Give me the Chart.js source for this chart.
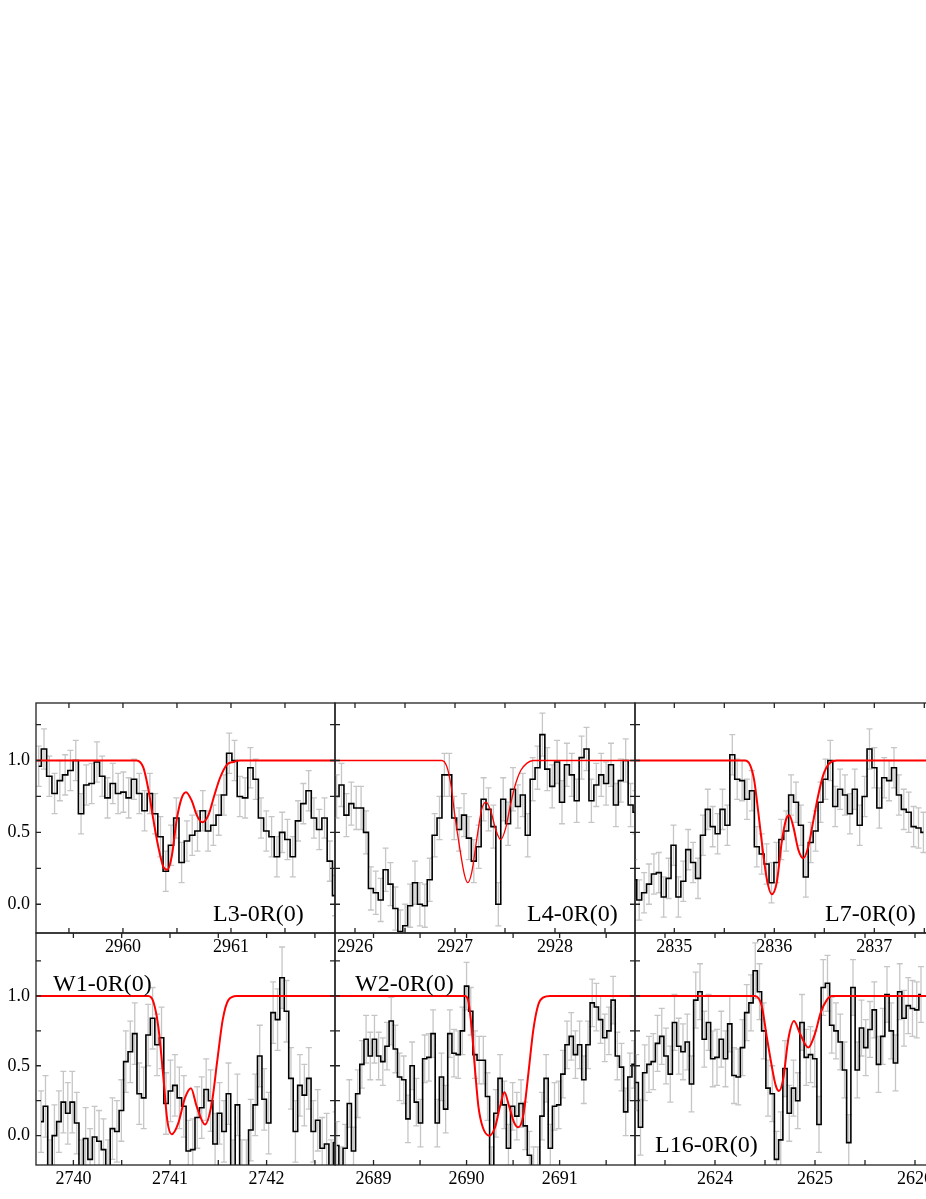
<!DOCTYPE html>
<html>
<head>
<meta charset="utf-8">
<title>H2 absorption lines</title>
<script src="https://cdn.jsdelivr.net/npm/chart.js@4.4.1/dist/chart.umd.min.js"></script>
<style>
  html, body { margin: 0; padding: 0; background: #fff; }
  body { width: 926px; height: 1199px; overflow: hidden; position: relative; }
  canvas { position: absolute; }
</style>
</head>
<body>
<script>
// normalised flux per bin (values below the frame read as -0.25)
const l3Flux = [0.96, 1.08, 0.89, 0.77, 0.86, 0.90, 0.93, 1.00, 0.63, 0.83, 0.84, 0.99, 0.89, 0.74, 0.84, 0.77, 0.78, 0.74, 0.87, 0.77,
  0.65, 0.77, 0.63, 0.47, 0.23, 0.41, 0.60, 0.29, 0.44, 0.48, 0.51, 0.65, 0.51, 0.55, 0.62, 0.76, 1.05, 1.00, 0.75, 0.74,
  0.95, 0.87, 0.60, 0.51, 0.47, 0.33, 0.50, 0.45, 0.33, 0.58, 0.70, 0.79, 0.60, 0.52, 0.60, 0.30, 0.06];
const l4Flux = [0.75, 0.83, 0.62, 0.70, 0.67, 0.67, 0.50, 0.11, 0.08, 0.03, 0.24, 0.14, -0.03, -0.19, -0.15, -0.01, 0.15, 0.00, -0.01, 0.17,
  0.48, 0.60, 0.90, 0.90, 0.60, 0.52, 0.62, 0.46, 0.30, 0.40, 0.73, 0.66, 0.54, 0.00, 0.73, 0.56, 0.80, 0.68, 0.76, 0.48,
  0.87, 0.95, 1.18, 0.94, 0.82, 0.99, 0.71, 0.97, 0.90, 0.72, 1.02, 1.08, 0.72, 0.83, 0.90, 0.84, 0.97, 0.69, 0.86, 1.00,
  0.69, 0.64];
const l7Flux = [0.17, 0.03, 0.08, 0.14, 0.21, 0.22, 0.05, 0.18, 0.41, 0.05, 0.16, 0.38, 0.29, 0.18, 0.48, 0.66, 0.54, 0.49, 0.66, 0.55,
  1.04, 0.87, 0.86, 0.73, 0.79, 0.40, 0.35, 0.28, 0.15, 0.29, 0.45, 0.51, 0.76, 0.71, 0.55, 0.19, 0.43, 0.51, 0.71, 0.87,
  1.00, 0.68, 0.80, 0.76, 0.63, 0.80, 0.55, 0.75, 1.08, 0.95, 0.67, 0.88, 0.86, 0.95, 0.76, 0.66, 0.64, 0.54, 0.53, 0.50];
const w1Flux = [0.10, 0.21, -0.25, 0.00, 0.10, 0.24, 0.16, 0.24, 0.09, -0.25, -0.02, -0.17, -0.01, -0.04, -0.10, -0.25, 0.05, 0.03, 0.18, 0.53,
  0.60, 0.73, 0.30, 0.27, 0.72, 0.84, 0.65, 0.70, 0.23, 0.32, 0.36, 0.27, 0.21, -0.11, -0.10, 0.13, 0.20, 0.33, 0.25, -0.06,
  0.16, 0.03, 0.30, -0.25, 0.22, -0.25, -0.25, 0.04, 0.22, 0.57, 0.26, 0.09, 0.88, 0.83, 1.13, 0.89, 0.41, 0.03, 0.36, 0.29,
  0.41, 0.03, 0.11, -0.09, -0.06, -0.25, -0.05];
const w2Flux = [-0.07, -0.25, -0.09, 0.23, -0.11, 0.30, 0.51, 0.69, 0.57, 0.69, 0.57, 0.53, 0.64, 0.82, 0.62, 0.42, 0.40, 0.12, 0.50, 0.24,
  0.09, 0.55, 0.56, 0.73, 0.09, 0.42, 0.19, 0.73, 0.59, 0.58, 0.75, 1.07, 0.89, 0.58, 0.54, 0.54, 0.28, -0.25, 0.16, 0.41,
  0.22, -0.09, 0.21, 0.14, 0.23, 0.07, -0.14, -0.25, -0.25, 0.14, 0.41, -0.09, 0.21, 0.22, 0.44, 0.65, 0.71, 0.58, 0.65, 0.40,
  0.65, 0.95, 0.92, 0.83, 0.70, 0.75, 0.97, 0.57, 0.49, 0.17, 0.42, 0.51, 0.67];
const l16Flux = [0.53, 0.38, 0.06, 0.45, 0.51, 0.53, 0.66, 0.71, 0.57, 0.44, 0.81, 0.64, 0.60, 0.67, 0.37, 0.97, 1.03, 0.69, 0.81, 0.55,
  0.56, 0.69, 0.55, 0.80, 0.43, 0.42, 0.63, 0.88, 0.95, 1.18, 1.03, 0.75, 0.34, 0.30, -0.17, -0.03, 0.48, 0.16, 0.34, 0.25,
  0.81, 0.56, 0.58, 0.55, 0.08, 1.06, 1.09, 0.79, 0.75, 0.67, 0.47, -0.05, 1.06, 0.47, 0.77, 0.63, 0.76, 0.90, 0.51, 0.71,
  1.01, 0.75, 0.52, 1.03, 0.84, 0.93, 0.91, 0.90, 1.01];

// wavelength of first bin centre and bin width (Angstrom)
const binStarts = [2959.22, 2925.816, 2834.60, 2739.665, 2688.605, 2623.17];
const binWidths = [0.049, 0.049, 0.049, 0.0462, 0.045, 0.0425];
// typical 1-sigma error per panel
const errSizes = [0.14, 0.15, 0.14, 0.22, 0.17, 0.20];

// fitted model (red)
const l3ModelX = [2959.19, 2960.127, 2960.189, 2960.235, 2960.281, 2960.327, 2960.374, 2960.411, 2960.451, 2960.498, 2960.544,
  2960.584, 2960.637, 2960.683, 2960.735, 2960.791, 2960.843, 2960.899, 2960.961, 2961.022, 2961.084, 2961.97];
const l3ModelY = [1, 1, 0.95, 0.80, 0.59, 0.40, 0.26, 0.24, 0.33, 0.59, 0.74, 0.78, 0.72, 0.62, 0.57, 0.62, 0.75, 0.88, 0.97, 0.99, 1, 1];
const l4ModelX = [2925.8, 2926.867, 2926.917, 2926.957, 2927.0, 2927.05, 2927.093, 2927.127, 2927.167, 2927.217, 2927.267,
  2927.31, 2927.357, 2927.407, 2927.457, 2927.507, 2927.557, 2927.607, 2927.657, 2927.717, 2927.783, 2927.85, 2928.8];
const l4ModelY = [1, 1, 0.96, 0.84, 0.61, 0.38, 0.21, 0.15, 0.22, 0.45, 0.66, 0.71, 0.65, 0.52, 0.45, 0.53, 0.70, 0.84, 0.93, 0.98, 1, 1, 1];
const l7ModelX = [2834.607, 2835.707, 2835.757, 2835.797, 2835.84, 2835.884, 2835.924, 2835.974, 2836.024, 2836.074, 2836.117,
  2836.15, 2836.19, 2836.24, 2836.29, 2836.34, 2836.39, 2836.44, 2836.49, 2836.55, 2836.624, 2836.69, 2837.61];
const l7ModelY = [1, 1, 0.97, 0.87, 0.64, 0.38, 0.18, 0.07, 0.15, 0.43, 0.59, 0.62, 0.54, 0.38, 0.32, 0.40, 0.58, 0.76, 0.90, 0.98, 1, 1, 1];
const w1ModelX = [2739.613, 2740.776, 2740.827, 2740.879, 2740.931, 2740.972, 2741.018, 2741.086, 2741.155, 2741.217, 2741.276,
  2741.362, 2741.432, 2741.49, 2741.546, 2741.604, 2741.69, 2742.708];
const w1ModelY = [1, 1, 0.96, 0.78, 0.42, 0.11, 0.01, 0.09, 0.27, 0.34, 0.21, 0.08, 0.23, 0.54, 0.83, 0.97, 1, 1];
const w2ModelX = [2688.586, 2689.984, 2690.02, 2690.056, 2690.091, 2690.127, 2690.174, 2690.245, 2690.306, 2690.36, 2690.407,
  2690.457, 2690.514, 2690.557, 2690.611, 2690.665, 2690.718, 2690.772, 2690.826, 2690.898, 2691.81];
const w2ModelY = [1, 1, 0.96, 0.76, 0.47, 0.21, 0.06, 0.0, 0.06, 0.21, 0.31, 0.21, 0.09, 0.06, 0.15, 0.45, 0.76, 0.94, 0.99, 1, 1];
const l16ModelX = [2623.2, 2624.40, 2624.467, 2624.517, 2624.567, 2624.607, 2624.64, 2624.683, 2624.733, 2624.79, 2624.85,
  2624.933, 2625.0, 2625.057, 2625.117, 2625.167, 2625.233, 2626.2];
const l16ModelY = [1, 1, 0.93, 0.71, 0.50, 0.36, 0.32, 0.41, 0.69, 0.82, 0.73, 0.63, 0.73, 0.88, 0.97, 1, 1, 1];

const lineNames = ['L3-0R(0)', 'L4-0R(0)', 'L7-0R(0)', 'W1-0R(0)', 'W2-0R(0)', 'L16-0R(0)'];
const xRanges = [[2959.195, 2961.963], [2925.8, 2928.8], [2834.607, 2837.607], [2739.613, 2742.708], [2688.586, 2691.81], [2623.2, 2626.2]];
const yRanges = [[-0.2, 1.4], [-0.21, 1.45]];

const fluxes = [l3Flux, l4Flux, l7Flux, w1Flux, w2Flux, l16Flux];
const modelXs = [l3ModelX, l4ModelX, l7ModelX, w1ModelX, w2ModelX, l16ModelX];
const modelYs = [l3ModelY, l4ModelY, l7ModelY, w1ModelY, w2ModelY, l16ModelY];

// layout of the 2x3 grid (pixels)
const colLeft = [36, 335, 635];
const colWidth = [299, 300, 300];
const rowTop = [703, 933];
const rowHeight = [230, 232];
// label position inside each panel: offset from panel left, baseline offset from panel top
const labelPos = [[177, 218], [192, 218], [190, 218], [17, 58], [20, 58], [20, 219]];
const modelWidths = [2, 1.3, 2, 2, 2, 2];

const SERIF = "'Liberation Serif', 'Times New Roman', serif";

// error bars, frame, inward ticks, tick labels and the line label
const panelDeco = {
    id: 'panelDeco',
    beforeDatasetsDraw(chart) {
        const ctx = chart.ctx, a = chart.chartArea;
        const xs = chart.scales.x, ys = chart.scales.y;
        const ds = chart.data.datasets[1];
        ctx.save();
        ctx.beginPath();
        ctx.rect(a.left, a.top, a.right - a.left, a.bottom - a.top);
        ctx.clip();
        ctx.strokeStyle = '#c6c6c6';
        ctx.lineWidth = 1.3;
        ds.data.forEach(function (pt) {
            const px = xs.getPixelForValue(pt.x);
            const y1 = ys.getPixelForValue(pt.y + ds.errSize);
            const y2 = ys.getPixelForValue(pt.y - ds.errSize);
            ctx.beginPath();
            ctx.moveTo(px, y1); ctx.lineTo(px, y2);
            ctx.moveTo(px - 3, y1); ctx.lineTo(px + 3, y1);
            ctx.moveTo(px - 3, y2); ctx.lineTo(px + 3, y2);
            ctx.stroke();
        });
        ctx.restore();
    },
    afterDatasetsDraw(chart, args, opts) {
        const ctx = chart.ctx, a = chart.chartArea;
        const xs = chart.scales.x, ys = chart.scales.y;
        const tl = 5;
        ctx.save();
        ctx.strokeStyle = '#222';
        ctx.lineWidth = 1.3;
        ctx.strokeRect(a.left, a.top, a.right - a.left, a.bottom - a.top);
        ctx.beginPath();
        for (let v = Math.ceil(xs.min * 2) / 2; v <= xs.max; v += 0.5) {
            const px = xs.getPixelForValue(v);
            ctx.moveTo(px, a.bottom); ctx.lineTo(px, a.bottom - tl);
            ctx.moveTo(px, a.top); ctx.lineTo(px, a.top + tl);
        }
        for (let v = Math.ceil(ys.min * 4) / 4; v <= ys.max; v += 0.25) {
            const py = ys.getPixelForValue(v);
            ctx.moveTo(a.left, py); ctx.lineTo(a.left + tl, py);
            ctx.moveTo(a.right, py); ctx.lineTo(a.right - tl, py);
        }
        ctx.stroke();

        ctx.fillStyle = '#000';
        ctx.font = '18px ' + SERIF;
        // wavelength labels under the frame
        ctx.textAlign = 'center';
        ctx.textBaseline = 'top';
        for (let v = Math.ceil(xs.min); v <= xs.max; v += 1) {
            ctx.fillText(String(v), xs.getPixelForValue(v), a.bottom + 5);
        }
        // flux labels on the left column only
        if (opts.yLabels) {
            ctx.textAlign = 'right';
            ctx.textBaseline = 'middle';
            for (let v = Math.ceil(ys.min * 2) / 2; v <= ys.max; v += 0.5) {
                ctx.fillText(v.toFixed(1), a.left - 6, ys.getPixelForValue(v));
            }
        }

        ctx.font = '24px ' + SERIF;
        ctx.textAlign = 'left';
        ctx.textBaseline = 'alphabetic';
        ctx.fillText(opts.text, a.left + opts.dx, a.top + opts.dy);
        ctx.restore();
    }
};

function makePanel(i) {
    const row = Math.floor(i / 3), col = i % 3;
    const padL = col === 0 ? 36 : 4, padR = 8, padT = 4, padB = row === 0 ? 30 : 34;
    const w = colWidth[col], h = rowHeight[row];
    const cv = document.createElement('canvas');
    cv.width = w + padL + padR;
    cv.height = h + padT + padB;
    cv.style.left = (colLeft[col] - padL) + 'px';
    cv.style.top = (rowTop[row] - padT) + 'px';
    document.body.appendChild(cv);

    const hist = fluxes[i].map(function (f, k) {
        return { x: binStarts[i] + k * binWidths[i], y: f };
    });
    const model = modelXs[i].map(function (x, k) {
        return { x: x, y: modelYs[i][k] };
    });

    new Chart(cv.getContext('2d'), {
        type: 'line',
        data: {
            datasets: [{
                data: model,
                borderColor: '#ff0000',
                borderWidth: modelWidths[i],
                pointRadius: 0,
                cubicInterpolationMode: 'monotone',
                fill: false
            }, {
                data: hist,
                borderColor: '#000',
                borderWidth: 1.6,
                pointRadius: 0,
                stepped: 'middle',
                fill: false,
                errSize: errSizes[i]
            }]
        },
        options: {
            responsive: false,
            animation: false,
            devicePixelRatio: 1,
            events: [],
            layout: { autoPadding: false, padding: { left: padL, right: padR, top: padT, bottom: padB } },
            plugins: {
                legend: { display: false },
                tooltip: { enabled: false },
                panelDeco: { text: lineNames[i], dx: labelPos[i][0], dy: labelPos[i][1], yLabels: col === 0 }
            },
            scales: {
                x: { type: 'linear', display: false, min: xRanges[i][0], max: xRanges[i][1] },
                y: { type: 'linear', display: false, min: yRanges[row][0], max: yRanges[row][1] }
            }
        },
        plugins: [panelDeco]
    });
}

for (let i = 0; i < 6; i++) {
    makePanel(i);
}
</script>
</body>
</html>
